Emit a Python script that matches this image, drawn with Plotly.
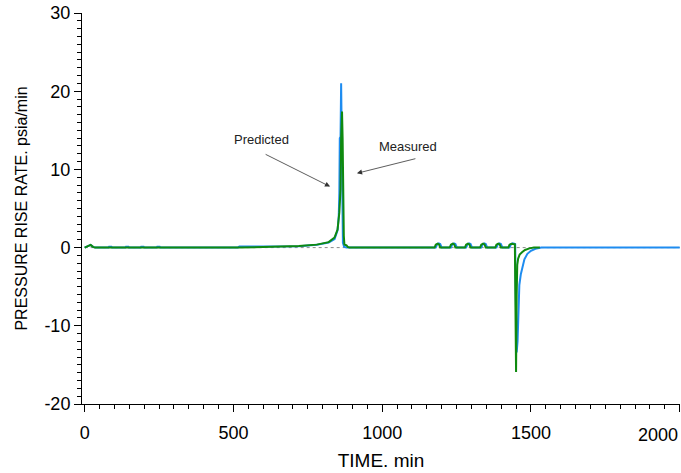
import plotly.graph_objects as go

# ---- data ----
measured_time = [0, 10, 20, 28, 35, 80, 82, 90, 92, 137, 139, 147, 149, 188, 190, 198, 200, 242, 244, 252, 254,
                 515, 520, 560, 650, 720, 780, 820, 840, 850, 854, 856, 857.5, 860, 862, 864, 866, 868, 872, 880,
                 1180, 1185, 1190, 1195, 1200, 1231, 1236, 1241, 1246, 1251, 1282, 1287, 1292, 1297, 1302,
                 1333, 1338, 1343, 1348, 1353, 1384, 1389, 1394, 1399, 1404, 1428, 1433, 1438, 1444, 1447,
                 1449, 1452, 1455, 1457, 1461, 1466, 1472, 1478, 1488, 1500, 1515, 1535, 2000]
measured_rate = [0, 0.2, 0.35, 0.1, 0, 0, 0.12, 0.12, 0, 0, 0.12, 0.12, 0, 0, 0.12, 0.12, 0, 0, 0.12, 0.12, 0,
                 0, 0.15, 0.15, 0.12, 0.18, 0.35, 0.65, 1.1, 2.2, 4, 7, 14, 14.2, 21, 15, 3, 0.6, 0.1, 0,
                 0, 0.42, 0.55, 0.45, 0, 0, 0.42, 0.55, 0.45, 0, 0, 0.42, 0.55, 0.45, 0,
                 0, 0.42, 0.55, 0.45, 0, 0, 0.42, 0.55, 0.45, 0, 0, 0.42, 0.55, 0.5, 0.45,
                 -6, -13.4, -12, -8, -4.8, -3.4, -2.3, -1.5, -0.8, -0.4, -0.15, 0, 0]

predicted_time = [0, 10, 20, 28, 35, 520, 560, 650, 720, 780, 820, 840, 850, 856, 860, 862, 865, 867,
                  869, 871, 873, 880, 884, 890,
                  1176, 1180, 1186, 1191, 1195, 1227, 1231, 1237, 1242, 1246, 1278, 1282, 1288, 1293, 1297,
                  1329, 1333, 1339, 1344, 1348, 1380, 1384, 1390, 1395, 1399, 1424, 1428, 1434, 1440, 1446,
                  1448, 1450, 1452, 1454, 1457, 1462, 1470, 1480, 1495, 1510, 1530]
predicted_rate = [0, 0.2, 0.35, 0.1, 0, 0, 0.05, 0.12, 0.2, 0.38, 0.7, 1.3, 2.3, 4.5, 7.5, 14, 17.4, 14,
                  5, 1.5, 0.4, 0.3, 0.1, 0,
                  0, 0.38, 0.5, 0.4, 0, 0, 0.38, 0.5, 0.4, 0, 0, 0.38, 0.5, 0.4, 0,
                  0, 0.38, 0.5, 0.4, 0, 0, 0.38, 0.5, 0.4, 0, 0, 0.38, 0.5, 0.45, 0.42,
                  -8, -15.9, -6, -2.2, -1.4, -0.9, -0.6, -0.3, -0.1, 0, 0]

baseline_time = [0, 2000]
baseline_rate = [0, 0]

x_ticks = [0, 500, 1000, 1500, 2000]
x_labels = ["0", "500", "1000", "1500", ""]
y_ticks = [-20, -10, 0, 10, 20, 30]
y_labels = ["-20", "-10", "0", "10", "20", "30"]

FONT = "Liberation Sans, Arial, sans-serif"

fig = go.Figure()
fig.add_trace(go.Scatter(x=baseline_time, y=baseline_rate, mode="lines",
                         line=dict(color="#8a8a8a", width=1, dash="dot"), hoverinfo="skip"))
fig.add_trace(go.Scatter(x=measured_time, y=measured_rate, mode="lines", name="Measured",
                         line=dict(color="#1E8CF0", width=2)))
fig.add_trace(go.Scatter(x=predicted_time, y=predicted_rate, mode="lines", name="Predicted",
                         line=dict(color="#0F8A0F", width=2)))

ann = [
    dict(x=2000, y=0, xref="x", yref="paper", yshift=-19, text="2000", showarrow=False,
         xanchor="right", yanchor="top", font=dict(size=18, color="black", family=FONT)),
    dict(x=593, y=13.8, text="Predicted", showarrow=False, font=dict(size=13, color="#222", family=FONT)),
    dict(x=1086, y=12.9, text="Measured", showarrow=False, font=dict(size=13, color="#222", family=FONT)),
    dict(x=825, y=7.8, ax=-66, ay=-33, text="", showarrow=True, arrowhead=2, arrowsize=1.3,
         arrowwidth=0.8, arrowcolor="#333"),
    dict(x=915, y=9.5, ax=60, ay=-15, text="", showarrow=True, arrowhead=2, arrowsize=1.3,
         arrowwidth=0.8, arrowcolor="#333"),
]

fig.update_layout(
    width=681, height=473,
    margin=dict(l=82, r=1, t=13, b=69),
    plot_bgcolor="white", paper_bgcolor="white",
    showlegend=False,
    font=dict(family=FONT, size=18, color="black"),
    annotations=ann,
    xaxis=dict(range=[-9, 2001], showline=True, linecolor="black", linewidth=1,
               showgrid=False, zeroline=False, ticks="outside", ticklen=7, tickcolor="black",
               tickvals=x_ticks, ticktext=x_labels, tickfont=dict(size=18), ticklabelstandoff=5,
               minor=dict(dtick=50, tick0=0, ticks="outside", ticklen=4, tickcolor="black"),
               title=dict(text="TIME. min", font=dict(size=19), standoff=12)),
    yaxis=dict(range=[-20, 30], showline=True, linecolor="black", linewidth=1,
               showgrid=False, zeroline=False, ticks="outside", ticklen=7, tickcolor="black",
               tickvals=y_ticks, ticktext=y_labels, tickfont=dict(size=18),
               minor=dict(dtick=1, tick0=0, ticks="outside", ticklen=4, tickcolor="black"),
               title=dict(text="PRESSURE RISE RATE. psia/min", font=dict(size=16), standoff=12)),
)

fig.write_html("out.html")
